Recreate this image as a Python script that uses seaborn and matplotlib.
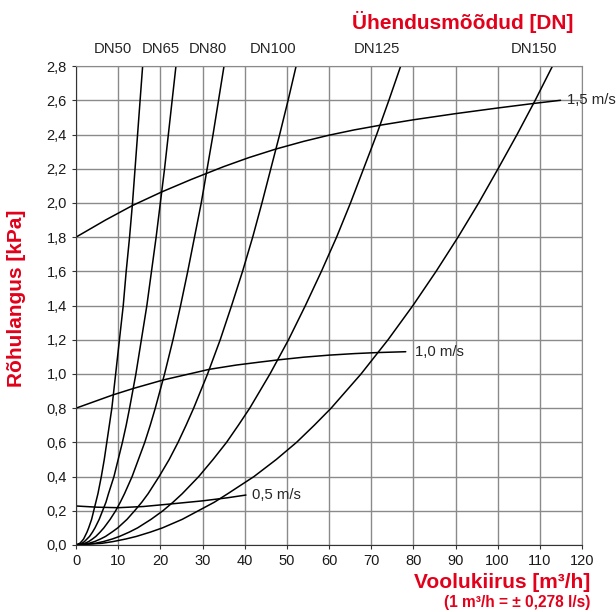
import pandas as pd
import matplotlib
matplotlib.use("Agg")
import matplotlib.pyplot as plt
from matplotlib.ticker import FuncFormatter, MultipleLocator
import seaborn as sns

# ---------------- Data ---------------- #
# pressure levels (kPa) at which the DN curve positions were read
dn_levels = [0, 0.01, 0.02, 0.035, 0.05, 0.075, 0.1, 0.15, 0.2, 0.25, 0.3,
             0.4, 0.5, 0.6, 0.7, 0.8, 1.0, 1.2, 1.4, 1.6, 1.8, 2.0,
             2.2, 2.4, 2.6, 2.8]

dn50 = [0, 0.9, 1.3, 1.8, 2.1, 2.6, 3.0, 3.7, 4.2, 4.7, 5.2, 6.0, 6.7,
        7.3, 7.9, 8.5, 9.4, 10.3, 11.2, 11.9, 12.7, 13.4, 14.0, 14.6, 15.2, 15.8]
dn65 = [0, 1.4, 2.0, 2.6, 3.2, 3.9, 4.5, 5.5, 6.3, 7.1, 7.7, 9.0, 10.0,
        11.0, 11.9, 12.7, 14.2, 15.5, 16.8, 17.9, 19.0, 20.0, 21.0, 21.9, 22.8, 23.7]
dn80 = [0, 2.1, 3.0, 3.9, 4.7, 5.7, 6.6, 8.1, 9.4, 10.5, 11.5, 13.3, 14.8,
        16.3, 17.6, 18.8, 21.0, 23.0, 24.8, 26.5, 28.1, 29.7, 31.1, 32.5, 33.8, 35.1]
dn100 = [0, 3.1, 4.4, 5.8, 7.0, 8.5, 9.9, 12.1, 13.9, 15.6, 17.1, 19.7, 22.1,
         24.2, 26.1, 27.9, 31.2, 34.2, 36.9, 39.5, 41.9, 44.1, 46.2, 48.3, 50.3, 52.2]
dn125 = [0, 4.6, 6.5, 8.6, 10.3, 12.6, 14.6, 17.8, 20.6, 23.0, 25.2, 29.1, 32.5,
         35.7, 38.5, 41.2, 46.0, 50.4, 54.4, 58.2, 61.8, 65.1, 68.2, 71.3, 74.2, 77.0]
dn150 = [0, 6.2, 8.8, 11.8, 14.3, 17.6, 20.5, 25.2, 29.0, 32.8, 36.0, 42.2, 47.5,
         52.3, 56.5, 60.5, 67.6, 74.0, 79.9, 85.4, 90.6, 95.5, 100.1, 104.6, 108.9, 113.0]

dn_names = ["DN50", "DN65", "DN80", "DN100", "DN125", "DN150"]
dn_label_x = [8.8, 20.1, 31.3, 46.7, 71.3, 108.5]

# velocity lines
v15_x = [0, 7, 13.4, 20.3, 27.3, 35, 41, 47.4, 54, 60, 66, 72.3, 80, 90, 100, 109, 114.9]
v15_y = [1.80, 1.90, 1.985, 2.064, 2.137, 2.212, 2.265, 2.315, 2.36, 2.396,
         2.427, 2.455, 2.486, 2.522, 2.555, 2.583, 2.60]
v10_x = [0, 8.7, 13.7, 20.7, 31.6, 38, 43.8, 48.2, 54, 60, 66, 71.4, 78.2]
v10_y = [0.80, 0.877, 0.916, 0.965, 1.027, 1.052, 1.07, 1.083, 1.098, 1.11,
         1.119, 1.125, 1.13]
v05_x = [0, 5, 10, 16, 22.5, 30, 35.9, 40.3]
v05_y = [0.228, 0.221, 0.218, 0.225, 0.24, 0.258, 0.276, 0.292]
v_labels = ["1,5 m/s", "1,0 m/s", "0,5 m/s"]

RED = "#e2001a"

# ---------------- Build long table ---------------- #
frames = []
for name, xs in zip(dn_names, [dn50, dn65, dn80, dn100, dn125, dn150]):
    frames.append(pd.DataFrame({"Q": xs, "dp": dn_levels, "curve": name}))
for name, xs, ys in zip(v_labels, [v15_x, v10_x, v05_x], [v15_y, v10_y, v05_y]):
    frames.append(pd.DataFrame({"Q": xs, "dp": ys, "curve": name}))
df = pd.concat(frames, ignore_index=True)

# ---------------- Plot ---------------- #
sns.set_style("ticks")
plt.rcParams["font.family"] = ["Liberation Sans", "DejaVu Sans"]

fig = plt.figure(figsize=(6.16, 6.12), dpi=100)
ax = fig.add_axes([0.1234, 0.1095, 0.8214, 0.7825])

sns.lineplot(data=df, x="Q", y="dp", units="curve", estimator=None,
             sort=False, color="black", lw=1.1, ax=ax)

ax.set_xlim(0, 120)
ax.set_ylim(0, 2.8)
ax.xaxis.set_major_locator(MultipleLocator(10))
ax.yaxis.set_major_locator(MultipleLocator(0.2))
ax.yaxis.set_major_formatter(FuncFormatter(lambda v, p: f"{v:.1f}".replace(".", ",")))
ax.grid(True, color="#8a8a8a", lw=1.0)
ax.set_axisbelow(True)
for s in ax.spines.values():
    s.set_color("#8a8a8a")
ax.spines["left"].set_color("#333333")
ax.spines["bottom"].set_color("#333333")
ax.tick_params(labelsize=10.5, length=3, color="#333333", labelcolor="#1a1a1a")
ax.set_xlabel("")
ax.set_ylabel("")

# velocity labels
ax.text(v15_x[-1] + 1.5, v15_y[-1], v_labels[0], fontsize=10.7, va="center", ha="left")
ax.text(v10_x[-1] + 2.3, v10_y[-1], v_labels[1], fontsize=10.7, va="center", ha="left")
ax.text(v05_x[-1] + 1.5, v05_y[-1], v_labels[2], fontsize=10.7, va="center", ha="left")

# DN labels on top
for name, x in zip(dn_names, dn_label_x):
    ax.text(x, 2.8 + 0.06, name, fontsize=10.7, ha="center", va="bottom")

# titles
fig.text(573 / 616, 1 - 22 / 612, "Ühendusmõõdud [DN]", color=RED,
         fontsize=15, fontweight="bold", ha="right", va="center")
fig.text(17 / 616, 1 - 298 / 612, "Rõhulangus [kPa]", color=RED,
         fontsize=15, fontweight="bold", rotation=90, ha="center", va="center")
fig.text(590 / 616, 1 - 583 / 612, "Voolukiirus [m³/h]", color=RED,
         fontsize=15, fontweight="bold", ha="right", va="center")
fig.text(590 / 616, 1 - 603 / 612, "(1 m³/h = ± 0,278 l/s)", color=RED,
         fontsize=11.2, fontweight="bold", ha="right", va="center")

fig.savefig("out.png", dpi=100)
